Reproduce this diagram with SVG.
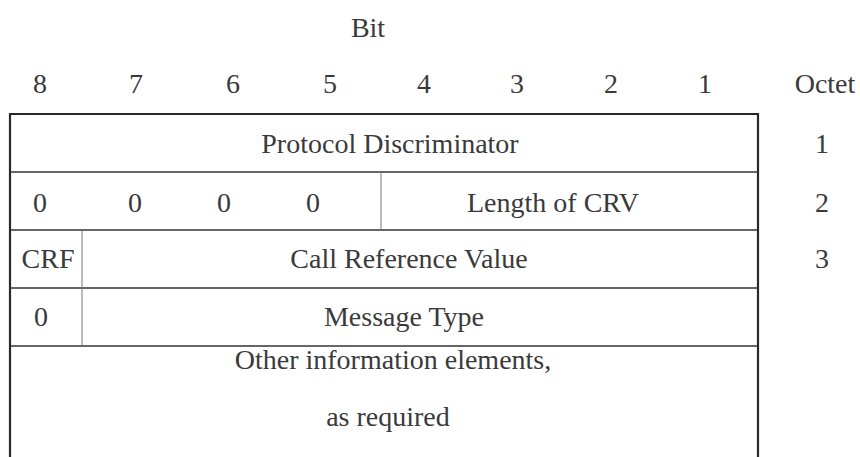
<svg xmlns="http://www.w3.org/2000/svg" width="860" height="457" viewBox="0 0 860 457">
  <style>
    text { font-family: "Liberation Serif", "Times New Roman", serif; font-size: 28px; fill: #3a3a3a; text-anchor: middle; }
    .frame { fill: none; stroke: #2a2a2a; stroke-width: 2.2; }
    .row { stroke: #333; stroke-width: 1.6; }
    .div { stroke: #777; stroke-width: 1; }
  </style>
  <rect width="860" height="457" fill="#fff"/>

  <!-- header: bit numbering and octet column -->
  <g id="header">
    <text x="368" y="37">Bit</text>
    <text x="40" y="93">8</text>
    <text x="136" y="93">7</text>
    <text x="233" y="93">6</text>
    <text x="330" y="93">5</text>
    <text x="424" y="93">4</text>
    <text x="517" y="93">3</text>
    <text x="611" y="93">2</text>
    <text x="705" y="93">1</text>
    <text x="825" y="93">Octet</text>
  </g>

  <!-- frame outline and row separators -->
  <g id="connectors">
    <path class="frame" d="M10,457 V114 H758 V457"/>
    <line class="row" x1="10" y1="172" x2="758" y2="172"/>
    <line class="row" x1="10" y1="230" x2="758" y2="230"/>
    <line class="row" x1="10" y1="288" x2="758" y2="288"/>
    <line class="row" x1="10" y1="346" x2="758" y2="346"/>
    <line class="div" x1="381" y1="172" x2="381" y2="230"/>
    <line class="div" x1="82" y1="230" x2="82" y2="346"/>
  </g>

  <g id="octet1">
    <text x="390" y="153">Protocol Discriminator</text>
    <text x="822" y="153">1</text>
  </g>

  <g id="octet2">
    <text x="40" y="212">0</text>
    <text x="135" y="212">0</text>
    <text x="224" y="212">0</text>
    <text x="313" y="212">0</text>
    <text x="553" y="212">Length of CRV</text>
    <text x="822" y="212">2</text>
  </g>

  <g id="octet3">
    <text x="48" y="268">CRF</text>
    <text x="409" y="268">Call Reference Value</text>
    <text x="822" y="268">3</text>
  </g>

  <g id="octet4">
    <text x="41" y="326">0</text>
    <text x="404" y="326">Message Type</text>
  </g>

  <g id="other-elements">
    <text x="393" y="369">Other information elements,</text>
    <text x="388" y="426">as required</text>
  </g>
</svg>
